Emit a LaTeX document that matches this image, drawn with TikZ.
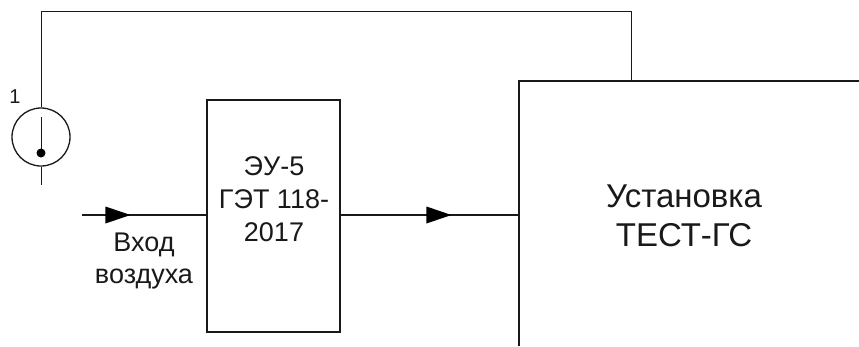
\documentclass[tikz,border=0pt]{standalone}
\usepackage{fontspec}
\setmainfont{Liberation Sans}
\usetikzlibrary{decorations.markings,arrows.meta}
\tikzset{
  x=1pt,y=-1pt,
  thinline/.style={draw=black!90,line width=1pt},
  boxline/.style={draw=black!90,line width=2.1pt},
  flowline/.style={draw=black!90,line width=2.1pt},
  labeltext/.style={inner sep=0pt,align=center,text=black!90},
  headmark/.style={postaction={decorate},decoration={markings,mark=at position #1 with {\fill[black] (-12.5pt,-8.5pt) -- (12.5pt,0pt) -- (-12.5pt,8.5pt) -- cycle;}}},
}
\begin{document}
\begin{tikzpicture}
\useasboundingbox (0,0) rectangle (859,346);
\node[draw=black!90,line width=1.3pt,circle,minimum size=58pt,inner sep=0pt] (sensor) at (41,137) {};
\node[boxline,rectangle,minimum width=133pt,minimum height=232pt,inner sep=0pt] (eu) at (273.5,216) {};
\coordinate (bigBL) at (519,346);
\coordinate (bigTL) at (519,81);
\coordinate (bigTR) at (859,81);
\coordinate (bigIn) at (519,215);
\coordinate (bigTap) at (631,81);
\coordinate (topL) at (41,11);
\coordinate (topR) at (631,11);
\coordinate (stub) at (41,185);
\coordinate (inlet) at (82,215);
\coordinate (probeTop) at (41,117);
\coordinate (probeEnd) at (41,153);
\draw[boxline] (bigBL) -- (bigTL) -- (bigTR);
\draw[thinline] (sensor.north) -- (topL) -- (topR) -- (bigTap);
\draw[thinline] (sensor.south) -- (stub);
\draw[thinline] (probeTop) -- (probeEnd);
\fill[black] (probeEnd) circle (4.5pt);
\draw[flowline,headmark=0.29] (inlet) -- (eu.west |- inlet);
\draw[flowline,headmark=0.55] (eu.east |- bigIn) -- (bigIn);
\node[labeltext,font=\fontsize{20}{24}\selectfont] (one) at (15,97) {1};
\node[labeltext,font=\fontsize{27}{33}\selectfont] (eutext) at (274,199) {ЭУ-5\\ГЭТ 118-\\2017};
\node[labeltext,font=\fontsize{27}{32}\selectfont] (air) at (144,261) {Вход\\воздуха};
\node[labeltext,font=\fontsize{33}{39}\selectfont] (rig) at (684,216) {Установка\\ТЕСТ-ГС};
\end{tikzpicture}
\end{document}
